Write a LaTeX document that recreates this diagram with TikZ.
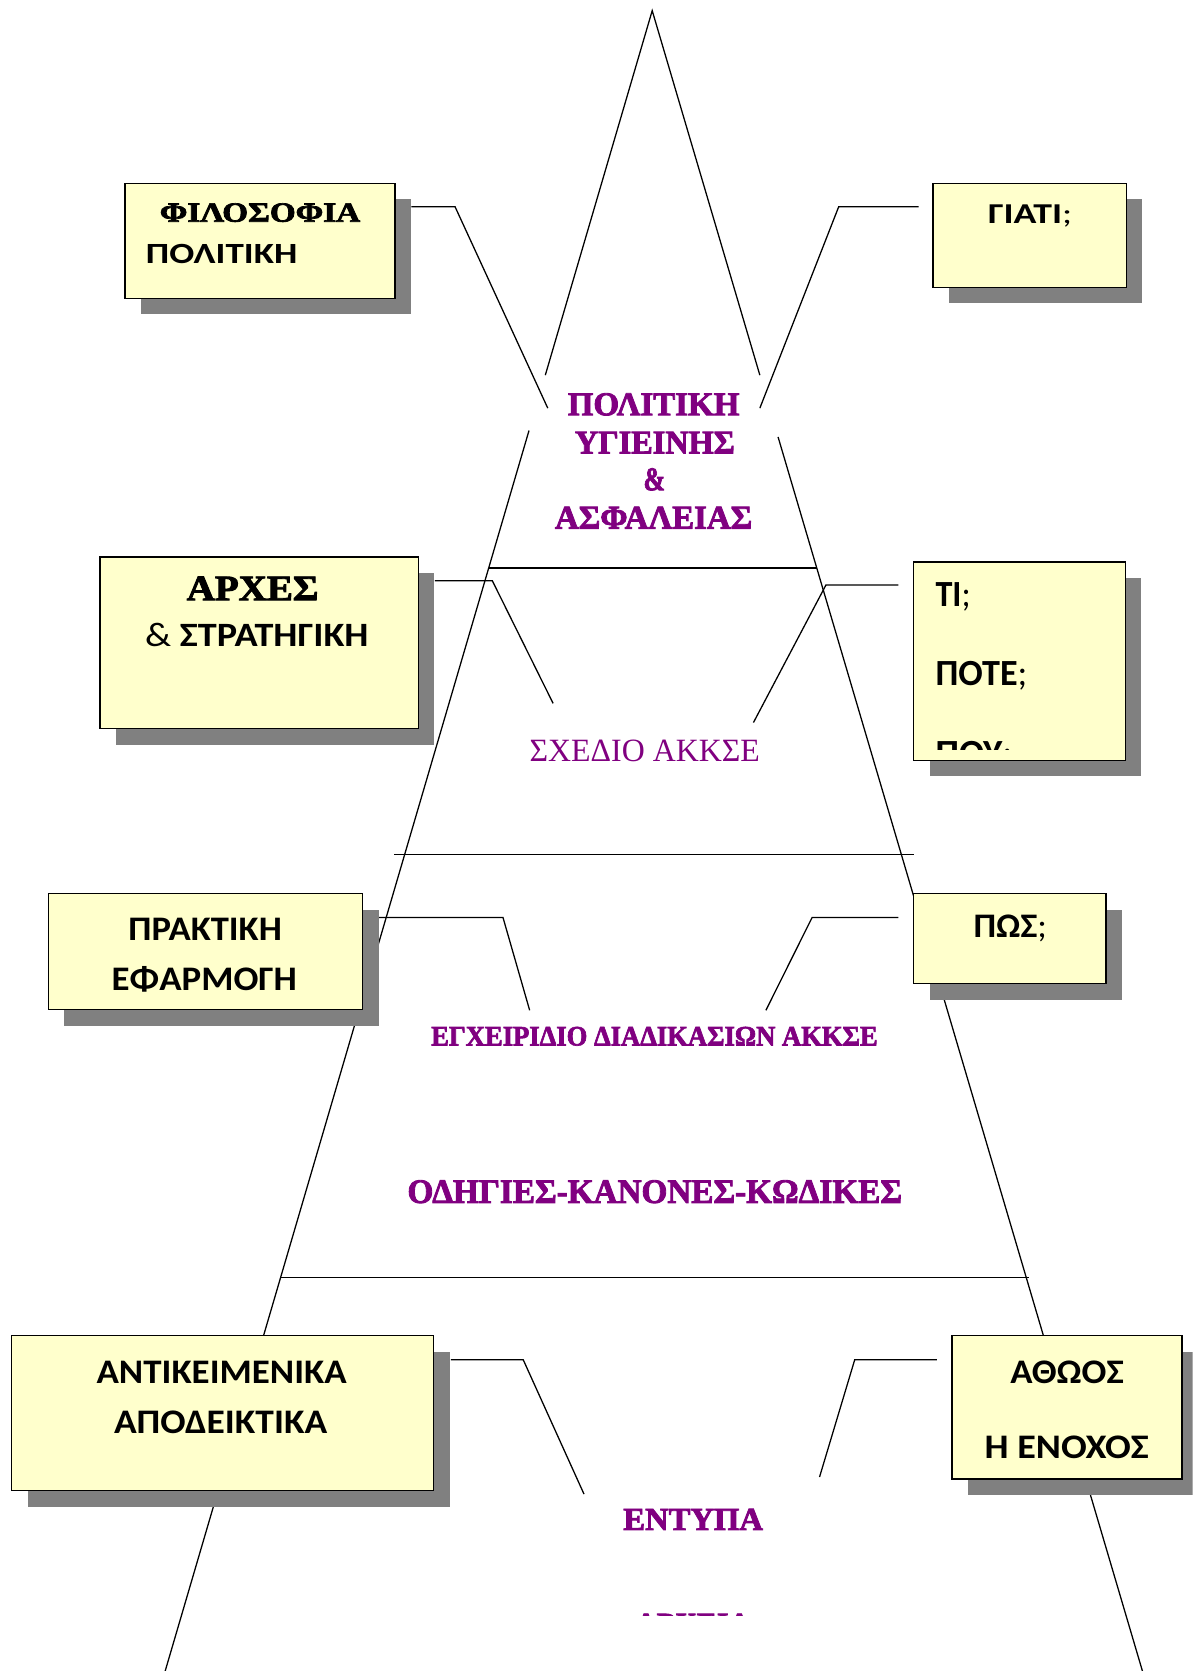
\documentclass[tikz,border=0pt]{standalone}
\usepackage{fontspec}
\usepackage{graphicx}
\usetikzlibrary{shadows}
\setmainfont{Liberation Serif}
\newfontfamily\calib{Carlito}
\newfontfamily\hvy[FakeBold=2.5]{Liberation Serif Bold}
\definecolor{boxyellow}{HTML}{FFFFCC}
\definecolor{shadowgray}{HTML}{808080}
\definecolor{purp}{HTML}{800080}
\newcommand\fw[3]{\fontsize{#1pt}{#1pt}\selectfont\resizebox{#2pt}{\height}{#3}}
\tikzset{
  box/.style={draw=black, line width=1.3pt, fill=boxyellow, inner sep=0pt, outer sep=0pt,
    anchor=north west, drop shadow={fill=shadowgray, opacity=1, shadow xshift=15pt, shadow yshift=-15pt}},
  slbl/.style={inner sep=0pt, anchor=base, font=\calib\bfseries, text=black},
  rlbl/.style={inner sep=0pt, anchor=base, font=\hvy, text=black},
  ptxt/.style={inner sep=0pt, anchor=base, font=\hvy, text=purp},
  pline/.style={line width=1.2pt, black},
}
\begin{document}
\begin{tikzpicture}[x=1pt,y=-1pt]
\useasboundingbox (0,0) rectangle (1119,1568);
\clip (0,0) rectangle (1119,1568);
% pyramid
\coordinate (apex) at (612,10);
\coordinate (lb) at (155,1568);
\coordinate (rb) at (1072,1568);
\coordinate (l1) at (511.7,352);
\coordinate (l2) at (496.4,404);
\coordinate (r1) at (713,352);
\coordinate (r2) at (730.1,410);
\draw[pline] (l1) -- (apex) -- (r1);
\draw[pline] (l2) -- (lb);
\draw[pline] (r2) -- (rb);
\coordinate (h1a) at (459,533); \coordinate (h1b) at (767,533);
\coordinate (h2a) at (370,802); \coordinate (h2b) at (858,802);
\coordinate (h3a) at (263,1199); \coordinate (h3b) at (966,1199);
\draw[pline] (h1a) -- (h1b);
\draw[pline] (h2a) -- (h2b);
\draw[pline] (h3a) -- (h3b);
% connectors
\coordinate (c1a) at (386,194); \coordinate (c1b) at (427,194); \coordinate (c1c) at (514,383);
\coordinate (c2a) at (862,194); \coordinate (c2b) at (787,194); \coordinate (c2c) at (713,383);
\coordinate (c3a) at (408,545); \coordinate (c3b) at (462,545); \coordinate (c3c) at (519,660);
\coordinate (c4a) at (843,549); \coordinate (c4b) at (775,549); \coordinate (c4c) at (707,678);
\coordinate (c5a) at (355,861); \coordinate (c5b) at (472,861); \coordinate (c5c) at (497,948);
\coordinate (c6a) at (843,861); \coordinate (c6b) at (762,861); \coordinate (c6c) at (718.7,948);
\coordinate (c7a) at (423,1276); \coordinate (c7b) at (491,1276); \coordinate (c7c) at (548,1402);
\coordinate (c8a) at (879,1276); \coordinate (c8b) at (802,1276); \coordinate (c8c) at (769,1386);
\foreach \i in {1,...,8} {\draw[pline] (c\i a) -- (c\i b) -- (c\i c);}
% boxes
\node[box, minimum width=253.5pt, minimum height=107.9pt] (b1) at (117.3,172.1) {};
\node[box, minimum width=181.5pt, minimum height=97.6pt] (b2) at (875.5,172.1) {};
\node[box, minimum width=298.8pt, minimum height=161.1pt] (b3) at (93.9,522.6) {};
\node[box, minimum width=198.7pt, minimum height=186.1pt] (b4) at (857.4,527.3) {};
\node[box, minimum width=295pt, minimum height=108.9pt] (b5) at (45.4,838.6) {};
\node[box, minimum width=180.5pt, minimum height=84.5pt] (b6) at (857.4,838.6) {};
\node[box, minimum width=395.8pt, minimum height=145.5pt] (b7) at (11,1253.2) {};
\node[box, minimum width=215.9pt, minimum height=134.5pt] (b8) at (893.4,1253.2) {};
% box texts
\node[rlbl] (t1a) at (244,208) {\fw{26}{188}{ΦΙΛΟΣΟΦΙΑ}};
\node[slbl] (t1b) at (208,247) {\fw{27.5}{142}{ΠΟΛΙΤΙΚΗ}};
\node[slbl] (t2) at (966.7,210) {\fw{27}{79}{ΓΙΑΤΙ{\mdseries;}}};
\node[rlbl] (t3a) at (237,563.2) {\fw{33.6}{123.6}{ΑΡΧΕΣ}};
\node[slbl] (t3b) at (241,607) {\fw{32}{209.6}{{\mdseries\&} ΣΤΡΑΤΗΓΙΚΗ}};
\node[slbl, anchor=base west] (t4a) at (877.7,569.5) {\fw{34.6}{33}{ΤΙ{\mdseries;}}};
\node[slbl, anchor=base west] (t4b) at (877.7,643) {\fw{34.6}{86.1}{ΠΟΤΕ{\mdseries;}}};
\begin{scope}
\clip (857.4,527.3) rectangle (1056.1,703);
\node[slbl, anchor=base west] (t4c) at (877.7,718.1) {\fw{34.6}{72}{ΠΟΥ{\mdseries;}}};
\end{scope}
\node[slbl] (t5a) at (192.5,882.4) {\fw{32.3}{143.9}{ΠΡΑΚΤΙΚΗ}};
\node[slbl] (t5b) at (191.7,929) {\fw{32.3}{173.7}{ΕΦΑΡΜΟΓΗ}};
\node[slbl] (t6) at (948,879.3) {\fw{32.3}{68.8}{ΠΩΣ{\mdseries;}}};
\node[slbl] (t7a) at (208,1298.6) {\fw{32.3}{234.7}{ΑΝΤΙΚΕΙΜΕΝΙΚΑ}};
\node[slbl] (t7b) at (207,1345.5) {\fw{32.3}{200}{ΑΠΟΔΕΙΚΤΙΚΑ}};
\node[slbl] (t8a) at (1001.3,1298.6) {\fw{32.3}{106.4}{ΑΘΩΟΣ}};
\node[slbl] (t8b) at (1001,1369) {\fw{32.3}{154}{Η ΕΝΟΧΟΣ}};
% pyramid texts
\node[ptxt] (p1) at (613.3,389.6) {\fw{31.1}{161}{ΠΟΛΙΤΙΚΗ}};
\node[ptxt] (p2) at (614.5,425.5) {\fw{31.1}{150}{ΥΓΙΕΙΝΗΣ}};
\node[ptxt] (p3) at (614,460) {\fw{31.1}{20.3}{\&}};
\node[ptxt] (p4) at (613.3,496) {\fw{31.1}{185}{ΑΣΦΑΛΕΙΑΣ}};
\node[ptxt, font=\mdseries] (p5) at (605,715) {\fw{30.5}{216}{ΣΧΕΔΙΟ ΑΚΚΣΕ}};
\node[ptxt] (p6) at (614.1,981) {\fw{26.4}{419}{ΕΓΧΕΙΡΙΔΙΟ ΔΙΑΔΙΚΑΣΙΩΝ ΑΚΚΣΕ}};
\node[ptxt] (p7) at (614.4,1128.7) {\fw{32}{464}{ΟΔΗΓΙΕΣ-ΚΑΝΟΝΕΣ-ΚΩΔΙΚΕΣ}};
\node[ptxt] (p8) at (650.4,1435.6) {\fw{30}{131}{ΕΝΤΥΠΑ}};
\begin{scope}
\clip (500,1500) rectangle (800,1516);
\node[ptxt] (p9) at (650,1534) {\fw{30}{108}{ΑΡΧΕΙΑ}};
\end{scope}
\end{tikzpicture}
\end{document}
